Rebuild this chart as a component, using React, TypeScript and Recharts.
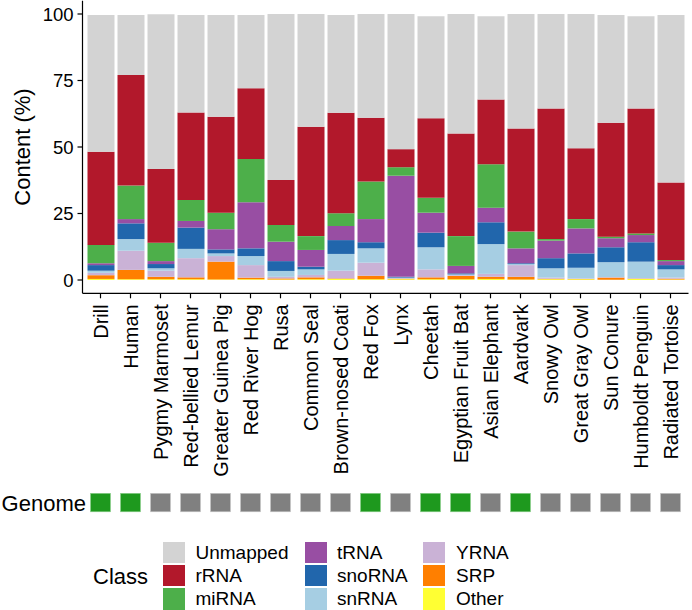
import { Bar, BarChart, Legend, XAxis, YAxis } from "recharts";

const species = [
  "Drill", "Human", "Pygmy Marmoset", "Red-bellied Lemur", "Greater Guinea Pig",
  "Red River Hog", "Rusa", "Common Seal", "Brown-nosed Coati", "Red Fox",
  "Lynx", "Cheetah", "Egyptian Fruit Bat", "Asian Elephant", "Aardvark",
  "Snowy Owl", "Great Gray Owl", "Sun Conure", "Humboldt Penguin", "Radiated Tortoise",
];

// stacked bottom -> top
const other = [0.4, 0.3, 0.3, 0.3, 0.2, 0.3, 0.2, 0.3, 0.4, 0.3, 0.3, 0.3, 0.3, 0.4, 0.2, 0.3, 0.3, 0.1, 0.4, 0.2];
const srp = [1.4, 3.5, 0.9, 0.7, 6.7, 0.6, 0.4, 0.7, 0.2, 1.3, 0.2, 0.7, 1.2, 0.8, 1.0, 0.2, 0.1, 0.8, 0.1, 0.3];
const yrna = [0.9, 7.2, 2.3, 7.2, 2.1, 4.7, 0.6, 0.9, 2.9, 4.9, 0.1, 3.0, 0.3, 1.1, 4.4, 0.4, 0.2, 0.2, 0.2, 0.4];
const snrna = [0.8, 4.4, 0.9, 3.5, 1.0, 3.4, 2.2, 2.1, 6.3, 5.4, 0.3, 8.3, 0.3, 11.2, 0.4, 3.5, 4.0, 5.6, 6.2, 3.1];
const snorna = [2.1, 5.9, 1.6, 8.0, 1.5, 2.9, 3.7, 1.0, 5.2, 2.3, 0.3, 5.5, 0.4, 8.2, 0.3, 3.8, 5.4, 5.6, 7.3, 1.6];
const trna = [0.7, 1.6, 1.1, 2.5, 7.6, 17.3, 7.3, 6.3, 5.3, 8.7, 38.0, 7.5, 2.8, 5.5, 5.6, 6.6, 9.4, 3.4, 2.7, 1.5];
const mirna = [6.9, 12.6, 6.9, 7.9, 6.2, 16.3, 6.3, 5.2, 4.8, 14.1, 3.2, 5.6, 11.2, 16.3, 6.3, 0.6, 3.5, 0.6, 0.6, 0.4];
const rrna = [35.0, 41.6, 27.7, 32.9, 36.1, 26.6, 16.9, 41.1, 37.8, 24.0, 6.8, 29.9, 38.6, 24.4, 38.8, 49.1, 26.6, 42.8, 47.0, 29.2];
const unmapped = [51.4, 22.5, 58.2, 36.6, 38.2, 27.5, 62.4, 42.4, 36.7, 39.0, 50.8, 38.4, 44.9, 31.3, 43.0, 35.5, 50.5, 40.5, 34.7, 62.9];

const genomeAvailable = [1, 1, 0, 0, 0, 0, 0, 0, 0, 1, 0, 1, 1, 0, 1, 0, 0, 0, 0, 0];

const yTicks = [0, 25, 50, 75, 100];

const classes = [
  { key: "Other", values: other, color: "#FFFF33" },
  { key: "SRP", values: srp, color: "#FF7F00" },
  { key: "YRNA", values: yrna, color: "#CAB2D6" },
  { key: "snRNA", values: snrna, color: "#A6CEE3" },
  { key: "snoRNA", values: snorna, color: "#2166AC" },
  { key: "tRNA", values: trna, color: "#984EA3" },
  { key: "miRNA", values: mirna, color: "#4DAF4A" },
  { key: "rRNA", values: rrna, color: "#B2182B" },
  { key: "Unmapped", values: unmapped, color: "#D3D3D3" },
];

const data = species.map((name, i) => {
  const row: Record<string, string | number> = { name };
  classes.forEach((c) => (row[c.key] = c.values[i]));
  return row;
});

const FONT = "'Liberation Sans', Arial, sans-serif";
const GENOME_TOP = 493.3;

function SpeciesTick(props: any) {
  const { x, y, payload } = props;
  const i = species.indexOf(payload.value);
  const has = genomeAvailable[i] === 1;
  return (
    <g>
      <text
        transform={`translate(${x},${y + 3}) rotate(-90)`}
        textAnchor="end"
        dy="0.35em"
        fontSize={20}
        fill="#000"
        fontFamily={FONT}
      >
        {payload.value}
      </text>
      <rect
        x={x - 10}
        y={GENOME_TOP}
        width={20}
        height={18.5}
        fill={has ? "#1E991E" : "#808080"}
        stroke={has ? "#8FD08F" : "#C8C8C8"}
        strokeWidth={0.6}
      />
      {i === 0 && (
        <text x={86} y={511} textAnchor="end" fontSize={22} fill="#000" fontFamily={FONT}>
          Genome
        </text>
      )}
    </g>
  );
}

function YTitle(props: any) {
  const vb = props.viewBox;
  const cy = vb.y + vb.height / 2;
  return (
    <text
      x={22.5}
      y={cy}
      transform={`rotate(-90, 22.5, ${cy})`}
      textAnchor="middle"
      dy="0.35em"
      fontSize={22}
      fill="#000"
      fontFamily={FONT}
    >
      Content (%)
    </text>
  );
}

function ClassLegend() {
  const legendOrder = [...classes].reverse();
  const colKey = [163, 305, 423];
  const colText = [195.5, 337, 456];
  return (
    <div style={{ position: "relative", width: 692, height: 610, fontFamily: FONT, color: "#000" }}>
      <div style={{ position: "absolute", left: 93, top: 566.4, fontSize: 22, lineHeight: "22px" }}>Class</div>
      {legendOrder.map((c, k) => {
        const col = Math.floor(k / 3);
        const row = k % 3;
        const top = 541.6 + row * 23.2;
        return (
          <div key={c.key}>
            <div
              style={{
                position: "absolute",
                left: colKey[col],
                top,
                width: 21.5,
                height: 21.5,
                background: c.color,
              }}
            />
            <div
              style={{
                position: "absolute",
                left: colText[col],
                top,
                fontSize: 19,
                lineHeight: "21.5px",
                whiteSpace: "nowrap",
              }}
            >
              {c.key}
            </div>
          </div>
        );
      })}
    </div>
  );
}

export default function App() {
  return (
    <div style={{ position: "absolute", left: 0, top: 0, width: 692, height: 610, background: "#fff" }}>
      <BarChart
        width={692}
        height={610}
        data={data}
        margin={{ top: 0.7, right: 3.5, left: 0, bottom: 0 }}
        style={{ fontFamily: FONT }}
      >
        <XAxis
          dataKey="name"
          type="category"
          interval={0}
          height={316.7}
          padding={{ left: 3, right: 3 }}
          tickSize={5}
          tickMargin={3}
          axisLine={{ stroke: "#000", strokeWidth: 1.2 }}
          tickLine={{ stroke: "#000", strokeWidth: 1.2 }}
          tick={<SpeciesTick />}
        />
        <YAxis
          type="number"
          domain={[-5, 105]}
          ticks={yTicks}
          width={82.5}
          tickSize={5}
          tickMargin={4}
          axisLine={{ stroke: "#000", strokeWidth: 1.2 }}
          tickLine={{ stroke: "#000", strokeWidth: 1.2 }}
          tick={{ fill: "#000", fontSize: 18.5, fontFamily: FONT }}
          label={<YTitle />}
        />
        <Legend
          layout="horizontal"
          verticalAlign="middle"
          align="center"
          wrapperStyle={{ position: "absolute", left: 0, top: 0, width: 692, height: 610, pointerEvents: "none" }}
          content={<ClassLegend />}
        />
        {classes.map((c) => (
          <Bar
            key={c.key}
            dataKey={c.key}
            name={c.key}
            stackId="content"
            fill={c.color}
            barSize={27}
            isAnimationActive={false}
          />
        ))}
      </BarChart>
    </div>
  );
}
